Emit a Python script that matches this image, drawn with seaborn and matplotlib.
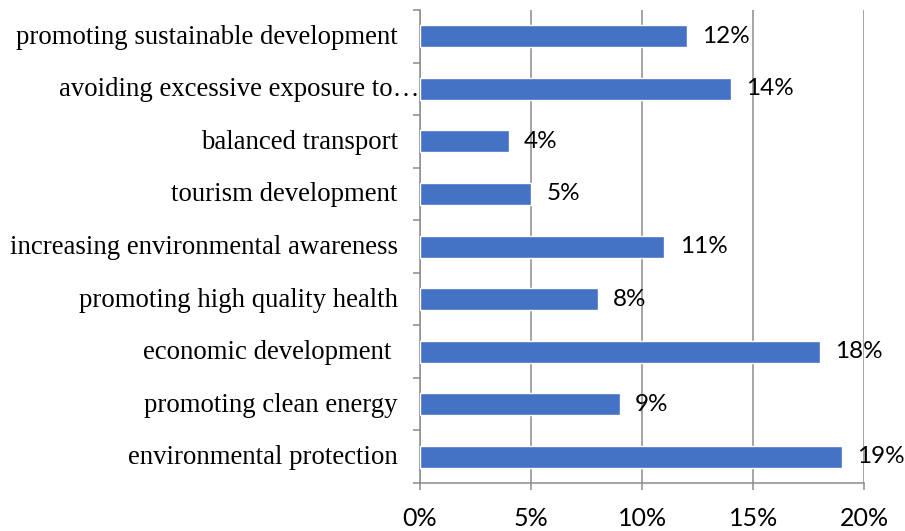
import pandas as pd
import matplotlib.pyplot as plt
import matplotlib.transforms as mtransforms
from matplotlib.ticker import FuncFormatter, FixedLocator
import seaborn as sns

# data
categories = [
    "promoting sustainable development",
    "avoiding excessive exposure to\u2026",
    "balanced transport",
    "tourism development",
    "increasing environmental awareness",
    "promoting high quality health",
    "economic development ",
    "promoting clean energy",
    "environmental protection",
]
values = [12, 14, 4, 5, 11, 8, 18, 9, 19]
value_labels = ["12%", "14%", "4%", "5%", "11%", "8%", "18%", "9%", "19%"]
x_ticks = [0, 5, 10, 15, 20]

df = pd.DataFrame({"category": categories, "share": values})

sns.set_style("white")
fig = plt.figure(figsize=(9.05, 5.31), dpi=100)
ax = fig.add_axes([0.464, 0.0904, 0.491, 0.8906])

sns.barplot(data=df, x="share", y="category", order=categories, orient="h",
            color="#4472C4", saturation=1, width=0.42, ax=ax, zorder=3)

ax.set_xlim(0, 20)
ax.set_ylim(len(categories) - 0.5, -0.5)
ax.xaxis.set_major_locator(FixedLocator(x_ticks))
ax.xaxis.set_major_formatter(FuncFormatter(lambda v, p: f"{v:.0f}%"))
ax.grid(axis="x", color="#8c8c8c", linewidth=1.1, zorder=0)
ax.grid(axis="y", visible=False)
ax.set_xlabel("")
ax.set_ylabel("")

for side in ["top", "right"]:
    ax.spines[side].set_visible(False)
for side in ["left", "bottom"]:
    ax.spines[side].set_color("#8c8c8c")
    ax.spines[side].set_linewidth(1.1)

# tick marks between categories on the y axis
ax.yaxis.set_minor_locator(FixedLocator([i - 0.5 for i in range(len(categories) + 1)]))
ax.tick_params(axis="y", which="minor", length=5, width=1.1, color="#8c8c8c", left=True)
ax.tick_params(axis="y", which="major", length=0, pad=16)
ax.tick_params(axis="x", which="major", length=5, width=1.1, color="#8c8c8c", bottom=True, pad=12)

for lab in ax.get_yticklabels():
    lab.set_fontfamily("Liberation Serif")
    lab.set_fontsize(19.3)
    lab.set_color("black")
    shift_x = 22 / 100 if lab.get_text().startswith("avoiding") else 0
    lab.set_transform(lab.get_transform() + mtransforms.ScaledTranslation(shift_x, 2 / 100, fig.dpi_scale_trans))
for lab in ax.get_xticklabels():
    lab.set_fontfamily("Lato")
    lab.set_fontsize(18)
    lab.set_color("black")

ax.bar_label(ax.containers[0], labels=value_labels, padding=11,
             fontsize=17.5, fontfamily="Lato", color="black")

plt.savefig("out.png", dpi=100)
